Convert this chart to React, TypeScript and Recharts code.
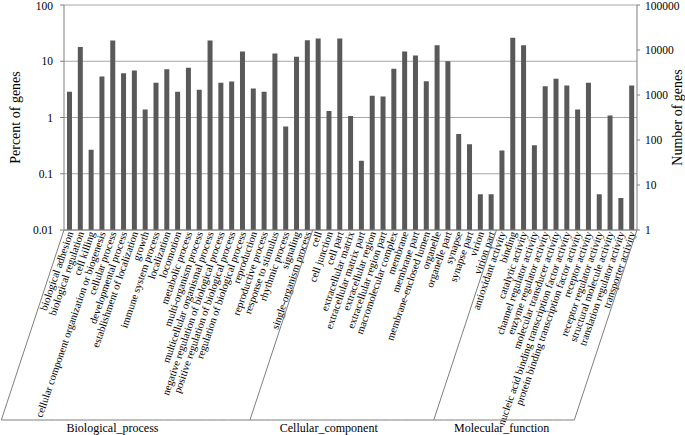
import React from 'react';
import { ComposedChart, Bar, XAxis, YAxis, CartesianGrid } from 'recharts';

const FONT = "'Liberation Serif', 'Times New Roman', Times, serif";

const groupNames = ['Biological_process', 'Cellular_component', 'Molecular_function'];

const bpTerms = [
  'biological adhesion', 'biological regulation', 'cell killing',
  'cellular component organization or biogenesis', 'cellular process',
  'developmental process', 'establishment of localization', 'growth',
  'immune system process', 'localization', 'locomotion', 'metabolic process',
  'multi-organism process', 'multicellular organismal process',
  'negative regulation of biological process', 'positive regulation of biological process',
  'regulation of biological process', 'reproduction', 'reproductive process',
  'response to stimulus', 'rhythmic process', 'signaling', 'single-organism process',
];
const bpPercent = [2.86, 18.0, 0.267, 5.37, 23.4, 6.15, 6.86, 1.39, 4.14, 7.24, 2.86, 7.64, 3.1, 23.4, 4.14, 4.38, 14.9, 3.28, 2.86, 13.7, 0.69, 12.0, 23.7];

const ccTerms = [
  'cell', 'cell junction', 'cell part', 'extracellular matrix', 'extracellular matrix part',
  'extracellular region', 'extracellular region part', 'macromolecular complex', 'membrane',
  'membrane part', 'membrane-enclosed lumen', 'organelle', 'organelle part', 'synapse',
  'synapse part', 'virion', 'virion part',
];
const ccPercent = [25.4, 1.3, 25.4, 1.06, 0.17, 2.43, 2.37, 7.33, 14.9, 12.7, 4.43, 19.3, 10.0, 0.51, 0.333, 0.043, 0.043];

const mfTerms = [
  'antioxidant activity', 'binding', 'catalytic activity', 'channel regulator activity',
  'enzyme regulator activity', 'molecular transducer activity',
  'nucleic acid binding transcription factor activity',
  'protein binding transcription factor activity', 'receptor activity',
  'receptor regulator activity', 'structural molecule activity',
  'translation regulator activity', 'transporter activity',
];
const mfPercent = [0.26, 26.1, 19.3, 0.32, 3.61, 4.87, 3.71, 1.39, 4.14, 0.043, 1.09, 0.037, 3.71];

const groupLabelTerms = ['locomotion', 'macromolecular complex', 'nucleic acid binding transcription factor activity'];

const percentTicks = [0.01, 0.1, 1, 10, 100];
const geneTicks = [1, 10, 100, 1000, 10000, 100000];

const groups = [
  { terms: bpTerms, values: bpPercent },
  { terms: ccTerms, values: ccPercent },
  { terms: mfTerms, values: mfPercent },
];

const data = groups.flatMap((g, gi) =>
  g.terms.map((name, i) => ({
    name,
    value: g.values[i],
    group: gi,
    first: i === 0,
    lastOfAll: gi === groups.length - 1 && i === g.terms.length - 1,
    groupLabel: groupLabelTerms[gi] === name ? groupNames[gi] : null,
  }))
);

const LINE = '#7f7f7f';
const BOTTOM_Y = 420;
const SLOPE = 0.33;
const textStyle = { fontFamily: FONT };

const XTick = (props: any) => {
  const { x, y, payload, index } = props;
  const row = data[index];
  const half = payload && payload.offset ? payload.offset : 5.4;
  const left = x - half;
  const right = x + half;
  const shift = (BOTTOM_Y - y) * SLOPE;
  const labelY = 432;
  return (
    <g>
      <text
        transform={`translate(${x + 4},${y + 3}) rotate(-71)`}
        textAnchor="end"
        fontSize={10.6}
        style={textStyle}
        fill="#000"
      >
        {payload.value}
      </text>
      {row && row.first && (
        <line x1={left} y1={y} x2={left - shift} y2={BOTTOM_Y} stroke={LINE} strokeWidth={1} />
      )}
      {row && row.lastOfAll && (
        <line x1={right} y1={y} x2={right - shift} y2={BOTTOM_Y} stroke={LINE} strokeWidth={1} />
      )}
      <line x1={left - shift} y1={BOTTOM_Y} x2={right - shift} y2={BOTTOM_Y} stroke={LINE} strokeWidth={1} />
      {row && row.groupLabel && (
        <text
          x={x - (labelY - 5 - y) * SLOPE}
          y={labelY}
          textAnchor="middle"
          fontSize={12}
          style={textStyle}
          fill="#000"
        >
          {row.groupLabel}
        </text>
      )}
    </g>
  );
};

const LeftTitle = (props: any) => {
  const vb = props.viewBox || { x: 0, y: 5, width: 64, height: 225 };
  const cx = vb.x + 15;
  const cy = vb.y + vb.height / 2;
  return (
    <text transform={`translate(${cx},${cy}) rotate(-90)`} textAnchor="middle" dominantBaseline="central" fontSize={14} style={textStyle} fill="#000">
      Percent of genes
    </text>
  );
};

const RightTitle = (props: any) => {
  const vb = props.viewBox || { x: 637, y: 5, width: 48, height: 225 };
  const cx = vb.x + 40;
  const cy = vb.y + vb.height / 2;
  return (
    <text transform={`translate(${cx},${cy}) rotate(-90)`} textAnchor="middle" dominantBaseline="central" fontSize={14} style={textStyle} fill="#000">
      Number of genes
    </text>
  );
};

export default function App() {
  return (
    <div style={{ position: 'absolute', left: 0, top: 0, width: 685, height: 435, background: '#fff', fontFamily: FONT }}>
      <ComposedChart
        width={685}
        height={435}
        data={data}
        margin={{ top: 5, right: 0, bottom: 0, left: 0 }}
        barCategoryGap="50%"
        style={{ fontFamily: FONT }}
      >
        <CartesianGrid yAxisId="left" vertical={false} stroke="#a6a6a6" strokeWidth={1} />
        <XAxis
          dataKey="name"
          interval={0}
          height={205}
          tickLine={false}
          tickSize={0}
          tickMargin={0}
          axisLine={{ stroke: LINE }}
          tick={<XTick />}
        />
        <YAxis
          yAxisId="left"
          scale="log"
          domain={[0.01, 100]}
          allowDataOverflow
          ticks={percentTicks}
          width={64}
          tickSize={4}
          tickMargin={7}
          axisLine={{ stroke: LINE }}
          tickLine={{ stroke: LINE }}
          tick={{ fontSize: 11.5, fill: '#000', style: textStyle }}
          tickFormatter={(v: number) => String(v)}
          label={<LeftTitle />}
        />
        <YAxis
          yAxisId="right"
          orientation="right"
          scale="log"
          domain={[1, 100000]}
          allowDataOverflow
          ticks={geneTicks}
          width={48}
          tickSize={3}
          tickMargin={5}
          axisLine={{ stroke: LINE }}
          tickLine={{ stroke: LINE }}
          tick={{ fontSize: 11.5, fill: '#000', textAnchor: 'start', style: textStyle }}
          tickFormatter={(v: number) => String(v)}
          label={<RightTitle />}
        />
        <Bar yAxisId="left" dataKey="value" fill="#595959" barSize={5} isAnimationActive={false} />
      </ComposedChart>
    </div>
  );
}
